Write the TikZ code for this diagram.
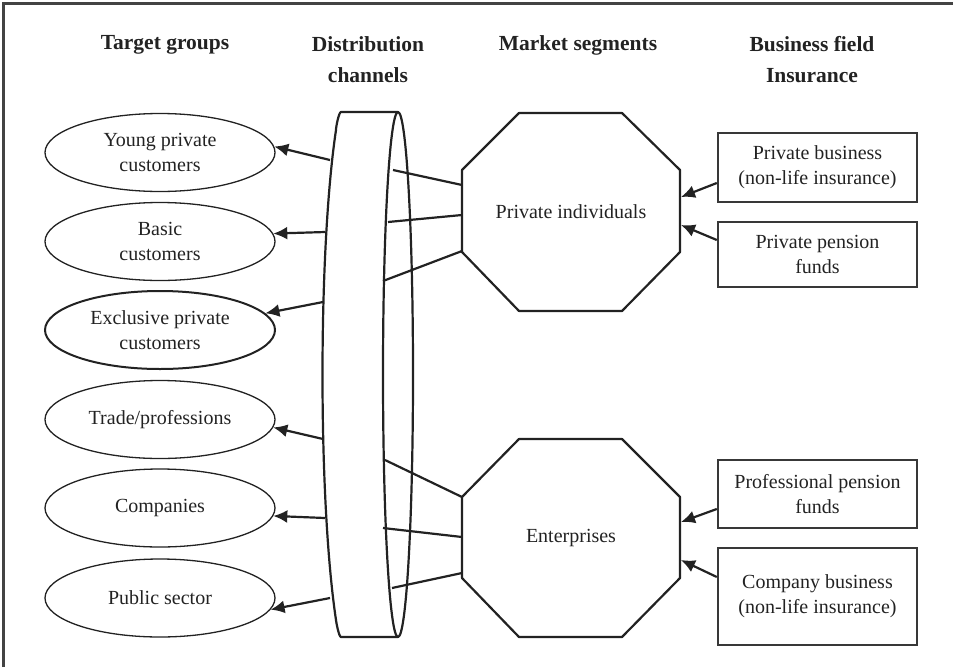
\documentclass[tikz,border=0pt]{standalone}
\usepackage{fontspec}
\setmainfont{Liberation Serif}
\usetikzlibrary{arrows.meta,shapes.geometric}

\definecolor{ink}{HTML}{222222}

\tikzset{
  txt/.style={font=\fontsize{20}{25}\selectfont, text=ink, align=center},
  head/.style={font=\fontsize{21.5}{31}\selectfont\bfseries, text=ink, align=center},
  group/.style={txt, ellipse, draw=ink, line width=1.3pt, minimum width=230pt,
                minimum height=78pt, inner sep=0pt},
  field/.style={txt, rectangle, draw=ink!90, line width=2.4pt, minimum width=199pt,
                inner sep=0pt},
  link/.style={draw=ink, line width=2.2pt},
  arr/.style={link, -{Latex[length=14pt,width=13pt]}},
  body/.style={draw=ink, line width=2.2pt, line join=round},
}

\begin{document}
\begin{tikzpicture}[x=1pt,y=-1pt]
\useasboundingbox (0,0) rectangle (953,667);

% frame
\draw[ink!85, line width=3pt] (3,667) -- (3,3) -- (953,3);

% column headings
\node[head] (h1) at (165,45) {Target groups};
\node[head] (h2) at (368,60) {Distribution\\channels};
\node[head] (h3) at (578,45) {Market segments};
\node[head] (h4) at (812,60) {Business field\\Insurance};

% target groups
\node[group] (tg1) at (160,152.5) {Young private\\customers};
\node[group] (tg2) at (160,241.5) {Basic\\customers};
\node[group, line width=2pt] (tg3) at (160,330) {Exclusive private\\customers};
\node[group] (tg4) at (160,419.5) {Trade/professions};
\node[group] (tg5) at (160,508) {Companies};
\node[group] (tg6) at (160,598) {Public sector};

% distribution channel drum
\draw[body] (398,112) -- (341,112) to[out=180,in=95,looseness=0.3] (336,130)
  .. controls (318,250) and (318,500) .. (336,620)
  to[out=-85,in=180,looseness=0.3] (341,637) -- (398,637);
\draw[body] (398,374.5) ellipse [x radius=15pt, y radius=262.5pt];

% points on the drum
\coordinate (c1) at (330,160);
\coordinate (c2) at (325.5,232);
\coordinate (c3) at (323,302);
\coordinate (c4) at (323,439);
\coordinate (c5) at (325,518);
\coordinate (c6) at (330,598);
\coordinate (d1) at (393,170);
\coordinate (d2) at (388,222);
\coordinate (d3) at (383,281);
\coordinate (d4) at (385,460);
\coordinate (d5) at (383,528);
\coordinate (d6) at (392,588);

% market segments
\draw[body] (519,113) -- (622,113) -- (680,170) -- (680,252) -- (622,311)
  -- (519,311) -- (462,252) -- (462,170) -- cycle;
\node[txt] (ms1) at (571,212) {Private individuals};
\draw[body] (519,439) -- (622,439) -- (680,497) -- (680,578) -- (622,637)
  -- (519,637) -- (462,578) -- (462,497) -- cycle;
\node[txt] (ms2) at (571,538) {Enterprises};

\coordinate (s1) at (462,185);
\coordinate (s2) at (462,215);
\coordinate (s3) at (462,251);
\coordinate (s4) at (462,497);
\coordinate (s5) at (462,537);
\coordinate (s6) at (462,573);
\coordinate (t1) at (681,197);
\coordinate (t2) at (681,225);
\coordinate (t3) at (681,522);
\coordinate (t4) at (681,560);

% business fields
\node[field, minimum height=69pt] (bf1) at (817.5,167.5) {Private business\\(non-life insurance)};
\node[field, minimum height=65pt] (bf2) at (817.5,254.5) {Private pension\\funds};
\node[field, minimum height=68pt] (bf3) at (817.5,494) {Professional pension\\funds};
\node[field, minimum height=97pt] (bf4) at (817.5,596.5) {Company business\\(non-life insurance)};

% drum to target groups
\draw[arr] (c1) -- (tg1.3);
\draw[arr] (c2) -- (tg2.4);
\draw[arr] (c3) -- (tg3.9);
\draw[arr] (c4) -- (tg4.-4);
\draw[arr] (c5) -- (tg5.-4);
\draw[arr] (c6) -- (tg6.-6);

% segments to drum
\draw[link] (s1) -- (d1);
\draw[link] (s2) -- (d2);
\draw[link] (s3) -- (d3);
\draw[link] (s4) -- (d4);
\draw[link] (s5) -- (d5);
\draw[link] (s6) -- (d6);

% business fields to segments
\draw[arr] ([yshift=-15.5pt]bf1.west) -- (t1);
\draw[arr] ([yshift=14.5pt]bf2.west) -- (t2);
\draw[arr] ([yshift=-15pt]bf3.west) -- (t3);
\draw[arr] ([yshift=19.5pt]bf4.west) -- (t4);
\end{tikzpicture}
\end{document}
